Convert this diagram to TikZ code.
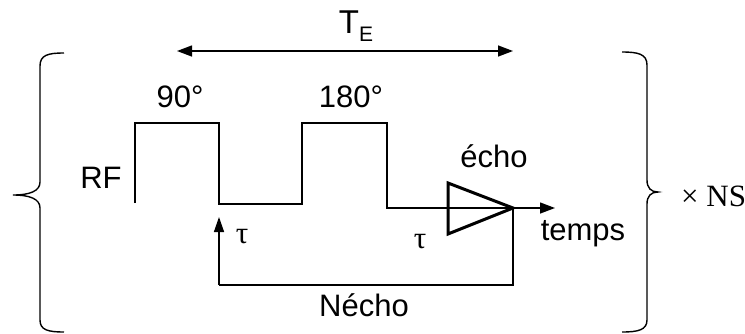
\documentclass[tikz,border=0pt]{standalone}
\usepackage{fontspec}
\setmainfont{Liberation Sans}
\newfontfamily\serifx{Liberation Serif}
\usetikzlibrary{arrows.meta}
\begin{document}
\begin{tikzpicture}[x=1pt,y=-1pt,
  ln/.style={line width=1.4pt},
  arr/.style={ln,-{Triangle[length=15pt,width=11pt]}},
  lbl/.style={inner sep=0pt,anchor=base,font=\fontsize{31}{33}\selectfont},
  slbl/.style={inner sep=0pt,anchor=base,font=\serifx\fontsize{31}{33}\selectfont}]
\useasboundingbox (0,0) rectangle (745,333);
% braces
\draw[ln] (64,53) .. controls (48,53) and (40,55) .. (40,66) -- (40,182)
  .. controls (40,191) and (30,195) .. (13,195)
  .. controls (30,195) and (40,199) .. (40,208) -- (40,320)
  .. controls (40,330) and (48,332) .. (64,332);
\draw[ln] (622,52) .. controls (638,52) and (647,54) .. (647,65) -- (647,180)
  .. controls (647,188) and (651,192) .. (658,192)
  .. controls (651,192) and (647,196) .. (647,204) -- (647,320)
  .. controls (647,330) and (638,332) .. (622,332);
% TE arrow
\coordinate (teL) at (177,51);
\coordinate (teR) at (513,51);
\draw[ln,{Triangle[length=15pt,width=11pt]}-{Triangle[length=15pt,width=11pt]}] (teL) -- (teR);
\node[inner sep=0pt,anchor=base] (te) at (356,33)
  {\fontsize{33}{35}\selectfont T\raisebox{-8pt}{\fontsize{21}{23}\selectfont E}};
% pulse sequence
\coordinate (p0) at (135,203);
\coordinate (p1) at (135,123);
\coordinate (p2) at (219,123);
\coordinate (p3) at (219,204);
\coordinate (p4) at (302,204);
\coordinate (p5) at (302,123);
\coordinate (p6) at (387,123);
\coordinate (p7) at (387,208);
\coordinate (tip) at (513,208);
\coordinate (tend) at (555,208);
\draw[ln] (p0) -- (p1) -- (p2) -- (p3) -- (p4) -- (p5) -- (p6) -- (p7) -- (tip);
\draw[arr] (tip) -- (tend);
% echo triangle
\draw[line width=3pt,line join=miter] (448,183) -- (tip) -- (448,234) -- cycle;
% loop
\coordinate (lb) at (513,285);
\coordinate (la) at (219,285);
\coordinate (lt) at (219,217);
\draw[ln] (tip) -- (lb) -- (la);
\draw[ln,-{Triangle[length=15pt,width=10pt]}] (la) -- (lt);
% labels
\node[lbl] (n90) at (180,107) {90°};
\node[lbl] (n180) at (351,107) {180°};
\node[lbl] (rf) at (101,188) {RF};
\node[lbl] (echo) at (494,167) {écho};
\node[lbl] (temps) at (583,240) {temps};
\node[lbl] (necho) at (364,316) {Nécho};
\node[slbl] (tau1) at (242,243) {τ};
\node[slbl] (tau2) at (420,248) {τ};
\node[slbl,anchor=base west] (ns) at (681,206) {× NS};
\end{tikzpicture}
\end{document}
